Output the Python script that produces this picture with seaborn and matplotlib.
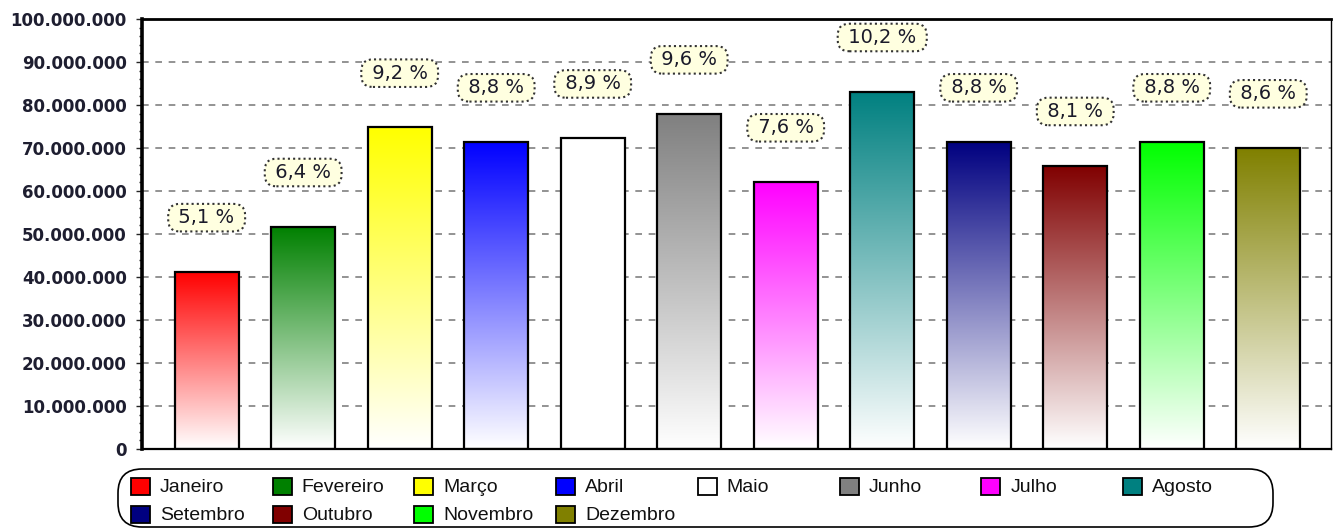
import numpy as np
import pandas as pd
import matplotlib
matplotlib.use("Agg")
import matplotlib.pyplot as plt
import matplotlib.colors as mcolors
from matplotlib.patches import Rectangle, FancyBboxPatch
from matplotlib.ticker import FuncFormatter, MultipleLocator
import seaborn as sns

months = ["Janeiro", "Fevereiro", "Março", "Abril", "Maio", "Junho",
          "Julho", "Agosto", "Setembro", "Outubro", "Novembro", "Dezembro"]
values = [41.2e6, 51.7e6, 74.8e6, 71.4e6, 72.3e6, 77.9e6,
          62.1e6, 83.1e6, 71.4e6, 65.9e6, 71.4e6, 70.0e6]
pct_labels = ["5,1 %", "6,4 %", "9,2 %", "8,8 %", "8,9 %", "9,6 %",
              "7,6 %", "10,2 %", "8,8 %", "8,1 %", "8,8 %", "8,6 %"]
colors = ["#FF0000", "#008000", "#FFFF00", "#0000FF", "#FFFFFF", "#808080",
          "#FF00FF", "#008080", "#000080", "#800000", "#00FF00", "#808000"]
yticks = [0, 10e6, 20e6, 30e6, 40e6, 50e6, 60e6, 70e6, 80e6, 90e6, 100e6]

sns.set_theme(style="white")
plt.rcParams['font.family'] = ['DejaVu Sans']

W, H = 1334, 528
fig = plt.figure(figsize=(W / 100, H / 100), dpi=100)
ax = fig.add_axes([142 / W, 79 / H, (1331 - 142) / W, 430 / H])

df = pd.DataFrame({"mes": months, "valor": values})
sns.barplot(data=df, x="mes", y="valor", hue="mes", palette=colors,
            legend=False, width=0.66, edgecolor="black", linewidth=1.6,
            ax=ax, zorder=3)

# gradient fill: full colour at top fading to white at bottom
for patch, col in zip(ax.patches, colors):
    x0, y0 = patch.get_x(), patch.get_y()
    w, h = patch.get_width(), patch.get_height()
    rgb = np.array(mcolors.to_rgb(col))
    t = np.linspace(0, 1, 256)[:, None]
    grad = (1 - t) * np.ones(3) + t * rgb
    img = grad[:, None, :]
    im = ax.imshow(img, extent=[x0, x0 + w, y0, y0 + h], origin="lower",
                   aspect="auto", zorder=2.5, interpolation="bilinear")
    im.set_clip_path(patch)
    patch.set_facecolor("none")

# percentage labels
for i, (v, lab) in enumerate(zip(values, pct_labels)):
    ax.text(i, v + 12.6e6, " " + lab + " ", ha="center", va="center",
            fontsize=14, color="#1a1a2a", zorder=5,
            bbox=dict(boxstyle="round,pad=0.22,rounding_size=0.6",
                      fc="#FFFFE0", ec="#333333", ls=(0, (1, 1.5)), lw=1.5))

ax.set_xlim(-0.67, 11.65)
ax.set_ylim(0, 100e6)
ax.set_yticks(yticks)
ax.yaxis.set_minor_locator(MultipleLocator(2e6))
ax.yaxis.set_major_formatter(FuncFormatter(lambda v, p: f"{int(round(v)):,}".replace(",", ".")))
ax.set_xticks([])
ax.set_xlabel("")
ax.set_ylabel("")
ax.tick_params(axis="y", which="major", direction="out", length=4, width=1,
               labelsize=12, labelcolor="#1e1e30", pad=7, left=True)
ax.tick_params(axis="y", which="minor", direction="out", length=2, width=1, left=True)
for lab in ax.get_yticklabels():
    lab.set_fontweight("bold")

ax.yaxis.grid(True, color="#808080", linestyle=(0, (4, 4)), linewidth=1.2, zorder=1)
ax.set_axisbelow(True)
for side, lw in [("left", 2.6), ("top", 2.0), ("right", 1.0), ("bottom", 1.6)]:
    ax.spines[side].set_visible(True)
    ax.spines[side].set_color("black")
    ax.spines[side].set_linewidth(lw)

# legend: 8 equal columns, row-major
tf = fig.transFigure
frame = FancyBboxPatch((118 / W, 1 / H), (1273 - 118) / W, 58 / H,
                       boxstyle="round,pad=0,rounding_size=0.018",
                       transform=tf, fc="white", ec="black", lw=1.2,
                       mutation_aspect=W / H)
fig.add_artist(frame)
ncol = 8
for k, (name, col) in enumerate(zip(months, colors)):
    r, c = divmod(k, ncol)
    x = 131 + c * 141.7
    yc = 486 + r * 28
    fig.add_artist(Rectangle((x / W, (H - yc - 8.5) / H), 19 / W, 17 / H,
                             transform=tf, fc=col, ec="black", lw=1.3))
    fig.text((x + 29) / W, (H - yc - 1.5) / H, name, ha="left", va="center",
             fontsize=14, family=["Liberation Sans", "DejaVu Sans"], color="#111111")

fig.savefig("out.png", dpi=100)
